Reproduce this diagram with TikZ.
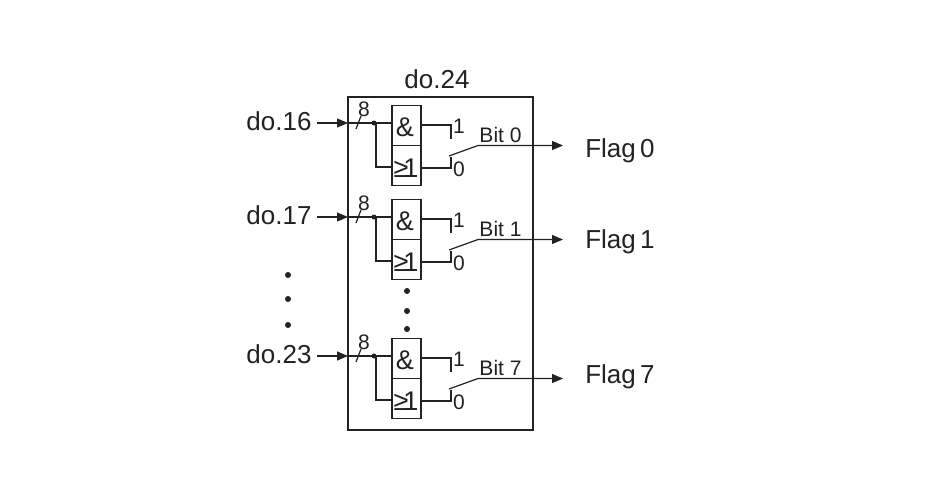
\documentclass[tikz,border=0pt]{standalone}
\usepackage{fontspec}
\setmainfont{Liberation Sans}
\usetikzlibrary{arrows.meta}
\definecolor{ink}{HTML}{222222}
\tikzset{
  x=1pt,y=-1pt,
  wire/.style={draw=ink,line width=1.2pt},
  arrowwire/.style={wire,-{Triangle[length=11pt,width=9pt]}},
  gatebox/.style={draw=ink,line width=1.2pt,fill=white,minimum width=29pt,minimum height=40pt,inner sep=0pt},
  big/.style={font=\fontsize{26}{28}\selectfont,inner sep=0pt,anchor=base,text=ink},
  mid/.style={font=\fontsize{21}{24}\selectfont,inner sep=0pt,anchor=base,text=ink},
  small/.style={font=\fontsize{21}{24}\selectfont,inner sep=0pt,anchor=base,text=ink},
  gatetxt/.style={font=\fontsize{27}{28}\selectfont,inner sep=0pt,text=ink},
  dotn/.style={circle,fill=ink,inner sep=0pt,minimum size=6pt},
  jdot/.style={circle,fill=ink,inner sep=0pt,minimum size=5pt},
}
\begin{document}
\begin{tikzpicture}
\useasboundingbox (0,0) rectangle (951,488);
\fill[white] (0,0) rectangle (951,488);
\node[draw=ink,line width=1.2pt,minimum width=185pt,minimum height=333pt,inner sep=0pt] (outer) at (440.5,263.5) {};
\node[big] (title) at (437,88) {do.24};
\foreach \i/\off/\inlab/\bitlab/\flaglab/\flagy in {a/0/do.16/Bit 0/Flag\,0/157,b/94/do.17/Bit 1/Flag\,1/154,c/233/do.23/Bit 7/Flag\,7/150}{
  \begin{scope}[yshift=-\off pt]
    \node[big] (in\i) at (279,130) {\inlab};
    \coordinate (start\i) at (317,123);
    \coordinate (edge\i) at (348,123);
    \node[jdot] (j\i) at (374,123) {};
    \node[gatebox] (and\i) at (406.5,125.5) {};
    \node[gatebox] (or\i) at (406.5,165.5) {};
    \node[gatetxt] at (405,127) {\&};
    \node[gatetxt] at (406,168.5) {≥\kern-5pt 1};
    \draw[arrowwire] (start\i) -- (edge\i);
    \draw[wire] (edge\i) -- (j\i.center) -- (and\i.west |- j\i.center);
    \draw[wire] (j\i.center) -- (376,123) -- (376,167) -- (or\i.west |- 0,167);
    \coordinate (s1\i) at (356,129);
    \coordinate (s2\i) at (361,116);
    \draw[wire] (s1\i) -- (s2\i);
    \node[mid] (eight\i) at (364,116) {8};
    \coordinate (t1\i) at (451,125);
    \coordinate (t1e\i) at (451,139);
    \coordinate (t0\i) at (451,168);
    \coordinate (t0e\i) at (451,157);
    \draw[wire] (and\i.east |- t1\i) -- (t1\i) -- (t1e\i);
    \draw[wire] (or\i.east |- t0\i) -- (t0\i) -- (t0e\i);
    \node[mid] (one\i) at (459,133) {1};
    \node[mid] (zero\i) at (459,176) {0};
    \coordinate (sw\i) at (449,156);
    \coordinate (bend\i) at (478,145.5);
    \coordinate (end\i) at (563,145.5);
    \draw[arrowwire] (sw\i) -- (bend\i) -- (end\i);
    \node[small] (bit\i) at (500.5,142) {\bitlab};
    \node[big] (flag\i) at (620,\flagy) {\flaglab};
  \end{scope}
}
\node[dotn] (l1) at (288,275) {};
\node[dotn] (l2) at (288,299) {};
\node[dotn] (l3) at (288,325) {};
\node[dotn] (m1) at (407,291) {};
\node[dotn] (m2) at (407,311) {};
\node[dotn] (m3) at (407,329) {};
\end{tikzpicture}
\end{document}
